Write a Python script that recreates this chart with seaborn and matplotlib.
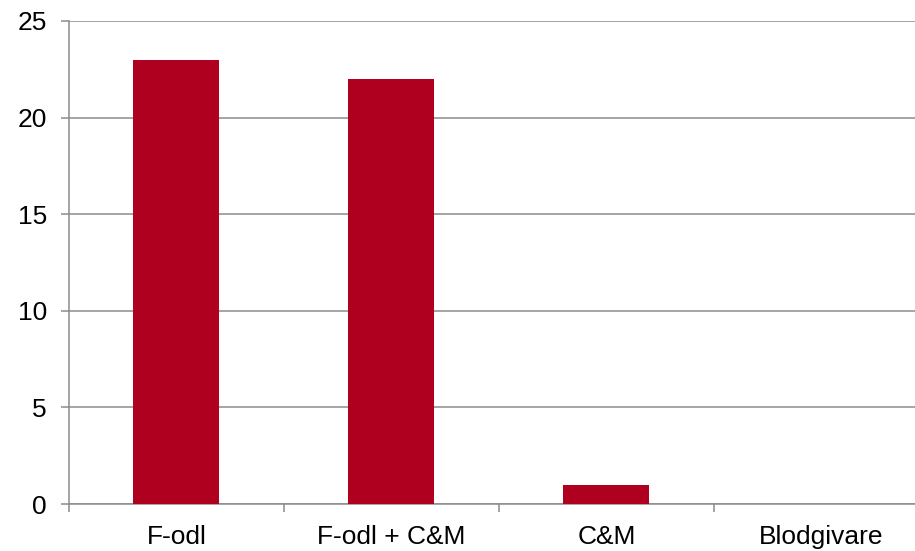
import numpy as np
import pandas as pd
import matplotlib.pyplot as plt
import seaborn as sns
from matplotlib.ticker import FixedLocator

# Data
categories = ["F-odl", "F-odl + C&M", "C&M", "Blodgivare"]
values = [23, 22, 1, 0]
yticks = [0, 5, 10, 15, 20, 25]

df = pd.DataFrame({"kategori": categories, "antal": values})

sns.set_style("white")
plt.rcParams['font.family'] = ['Liberation Sans', 'DejaVu Sans']

fig = plt.figure(figsize=(9.15, 5.51), dpi=100)
ax = fig.add_axes([69 / 915, 1 - 504 / 551, 1 - 69 / 915, (504 - 21) / 551])

sns.barplot(data=df, x="kategori", y="antal", color="#B00020",
            width=0.4, saturation=1, linewidth=0, ax=ax, zorder=3)

ax.set_xlim(-0.5, 3.435)
ax.set_ylim(0, 25)
ax.set_yticks(yticks)
ax.set_xlabel("")
ax.set_ylabel("")

# grid and spines
ax.yaxis.grid(True, color="#8c8c8c", linewidth=1.1, zorder=0)
ax.set_axisbelow(True)
for s in ["top", "right"]:
    ax.spines[s].set_visible(False)
for s in ["left", "bottom"]:
    ax.spines[s].set_color("#8c8c8c")
    ax.spines[s].set_linewidth(1.1)

# ticks: y outward, x at category boundaries
ax.tick_params(axis="y", direction="out", length=5.8, width=1.1, color="#8c8c8c",
               labelsize=19, labelcolor="black", pad=10, left=True)
ax.tick_params(axis="x", which="major", length=0, labelsize=19,
               labelcolor="black", pad=15)
ax.xaxis.set_minor_locator(FixedLocator([-0.5, 0.5, 1.5, 2.5]))
ax.tick_params(axis="x", which="minor", direction="out", length=5.8, width=1.1,
               color="#8c8c8c", bottom=True)

fig.savefig("out.png", dpi=100)
